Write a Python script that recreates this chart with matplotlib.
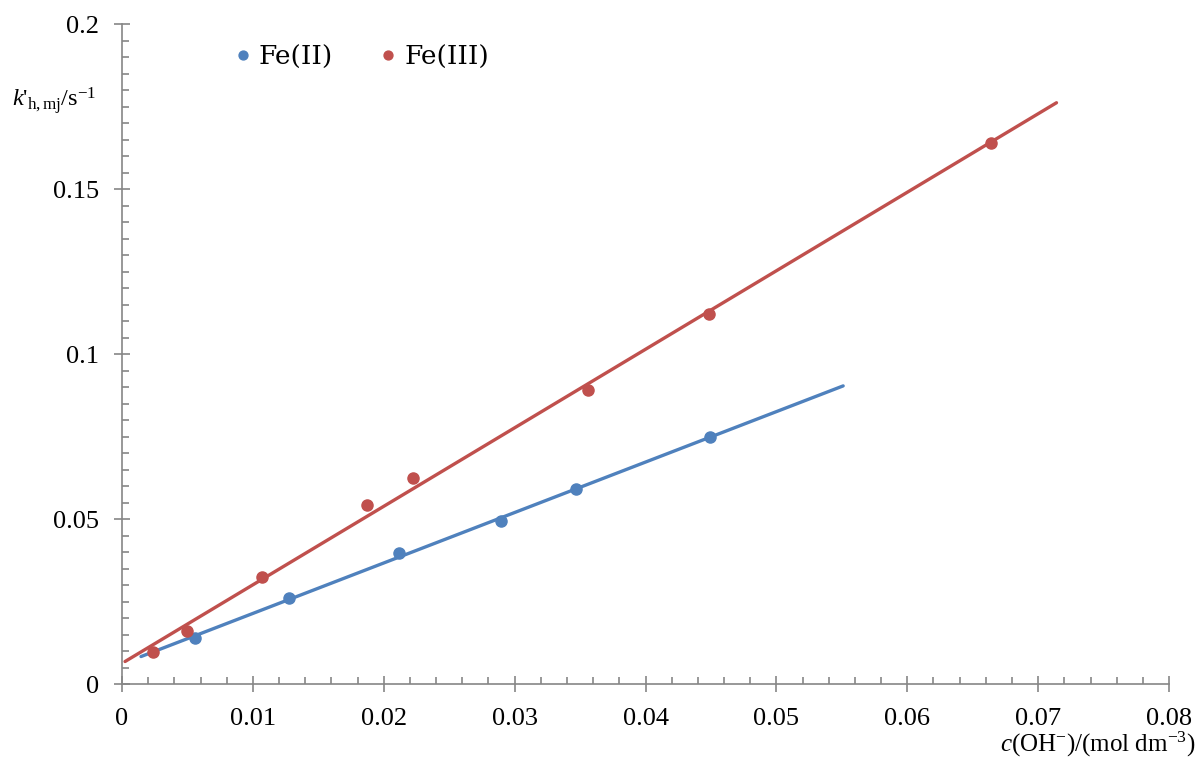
import numpy as np
import matplotlib
matplotlib.use("Agg")
import matplotlib.pyplot as plt
from matplotlib.ticker import MultipleLocator, FuncFormatter

plt.rcParams["font.family"] = ["Liberation Serif", "DejaVu Serif"]
plt.rcParams["mathtext.fontset"] = "custom"
plt.rcParams["mathtext.rm"] = "Liberation Serif"
plt.rcParams["mathtext.it"] = "Liberation Serif:italic"

# data
fe2_c = [0.00558, 0.01276, 0.02116, 0.02895, 0.03468, 0.04492]
fe2_k = [0.0139, 0.0261, 0.0397, 0.0494, 0.0591, 0.0748]
fe3_c = [0.00237, 0.00497, 0.0107, 0.01872, 0.02223, 0.0356, 0.04484, 0.06639]
fe3_k = [0.0097, 0.0161, 0.0324, 0.0542, 0.0624, 0.0891, 0.1121, 0.1639]

# trendline extents (Excel forecast range)
fe2_fit_range = (0.00145, 0.0551)
fe3_fit_range = (0.00023, 0.0714)

blue = "#4F81BD"
red = "#C0504D"
axis_grey = "#868686"

fig = plt.figure(figsize=(12, 7.63), dpi=100)
ax = fig.add_axes([0.1017, 0.1035, 0.8725, 0.865])

# linear trendlines
for cs, ks, rng, col in [(fe2_c, fe2_k, fe2_fit_range, blue),
                         (fe3_c, fe3_k, fe3_fit_range, red)]:
    slope, icpt = np.polyfit(cs, ks, 1)
    xx = np.array(rng)
    ax.plot(xx, slope * xx + icpt, color=col, lw=2.4, solid_capstyle="round", zorder=2)

ax.plot(fe2_c, fe2_k, "o", color=blue, ms=8, label="Fe(II)", zorder=3)
ax.plot(fe3_c, fe3_k, "o", color=red, ms=8, label="Fe(III)", zorder=3)

ax.set_xlim(0, 0.08)
ax.set_ylim(0, 0.2)
ax.xaxis.set_major_locator(MultipleLocator(0.01))
ax.xaxis.set_minor_locator(MultipleLocator(0.002))
ax.yaxis.set_major_locator(MultipleLocator(0.05))
ax.yaxis.set_minor_locator(MultipleLocator(0.005))
fmt = FuncFormatter(lambda v, p: f"{v:g}")
ax.xaxis.set_major_formatter(fmt)
ax.yaxis.set_major_formatter(fmt)

for s in ["top", "right"]:
    ax.spines[s].set_visible(False)
for s in ["left", "bottom"]:
    ax.spines[s].set_color(axis_grey)
    ax.spines[s].set_linewidth(1.2)
ax.tick_params(which="major", direction="inout", length=11, width=1.2,
               color=axis_grey, labelsize=19)
ax.tick_params(axis="y", which="major", pad=11)
ax.tick_params(axis="x", which="major", pad=12)
ax.tick_params(which="minor", direction="in", length=5, width=1.2, color=axis_grey)

leg = ax.legend(loc="upper left", bbox_to_anchor=(0.08, 1.005), ncol=2, frameon=False,
                prop={"family": "DejaVu Serif", "size": 19}, handletextpad=0.1,
                columnspacing=1.6, handlelength=1.0, markerscale=0.8)

fig.text(0.01, 0.868, r"$k$'$_{\mathrm{h,mj}}$/s$^{-1}$", fontsize=17.5, ha="left", va="center")
fig.text(0.996, 0.024, r"$c$(OH$^{-}$)/(mol dm$^{-3}$)", fontsize=18, ha="right", va="center")

fig.savefig("out.png", dpi=100)
